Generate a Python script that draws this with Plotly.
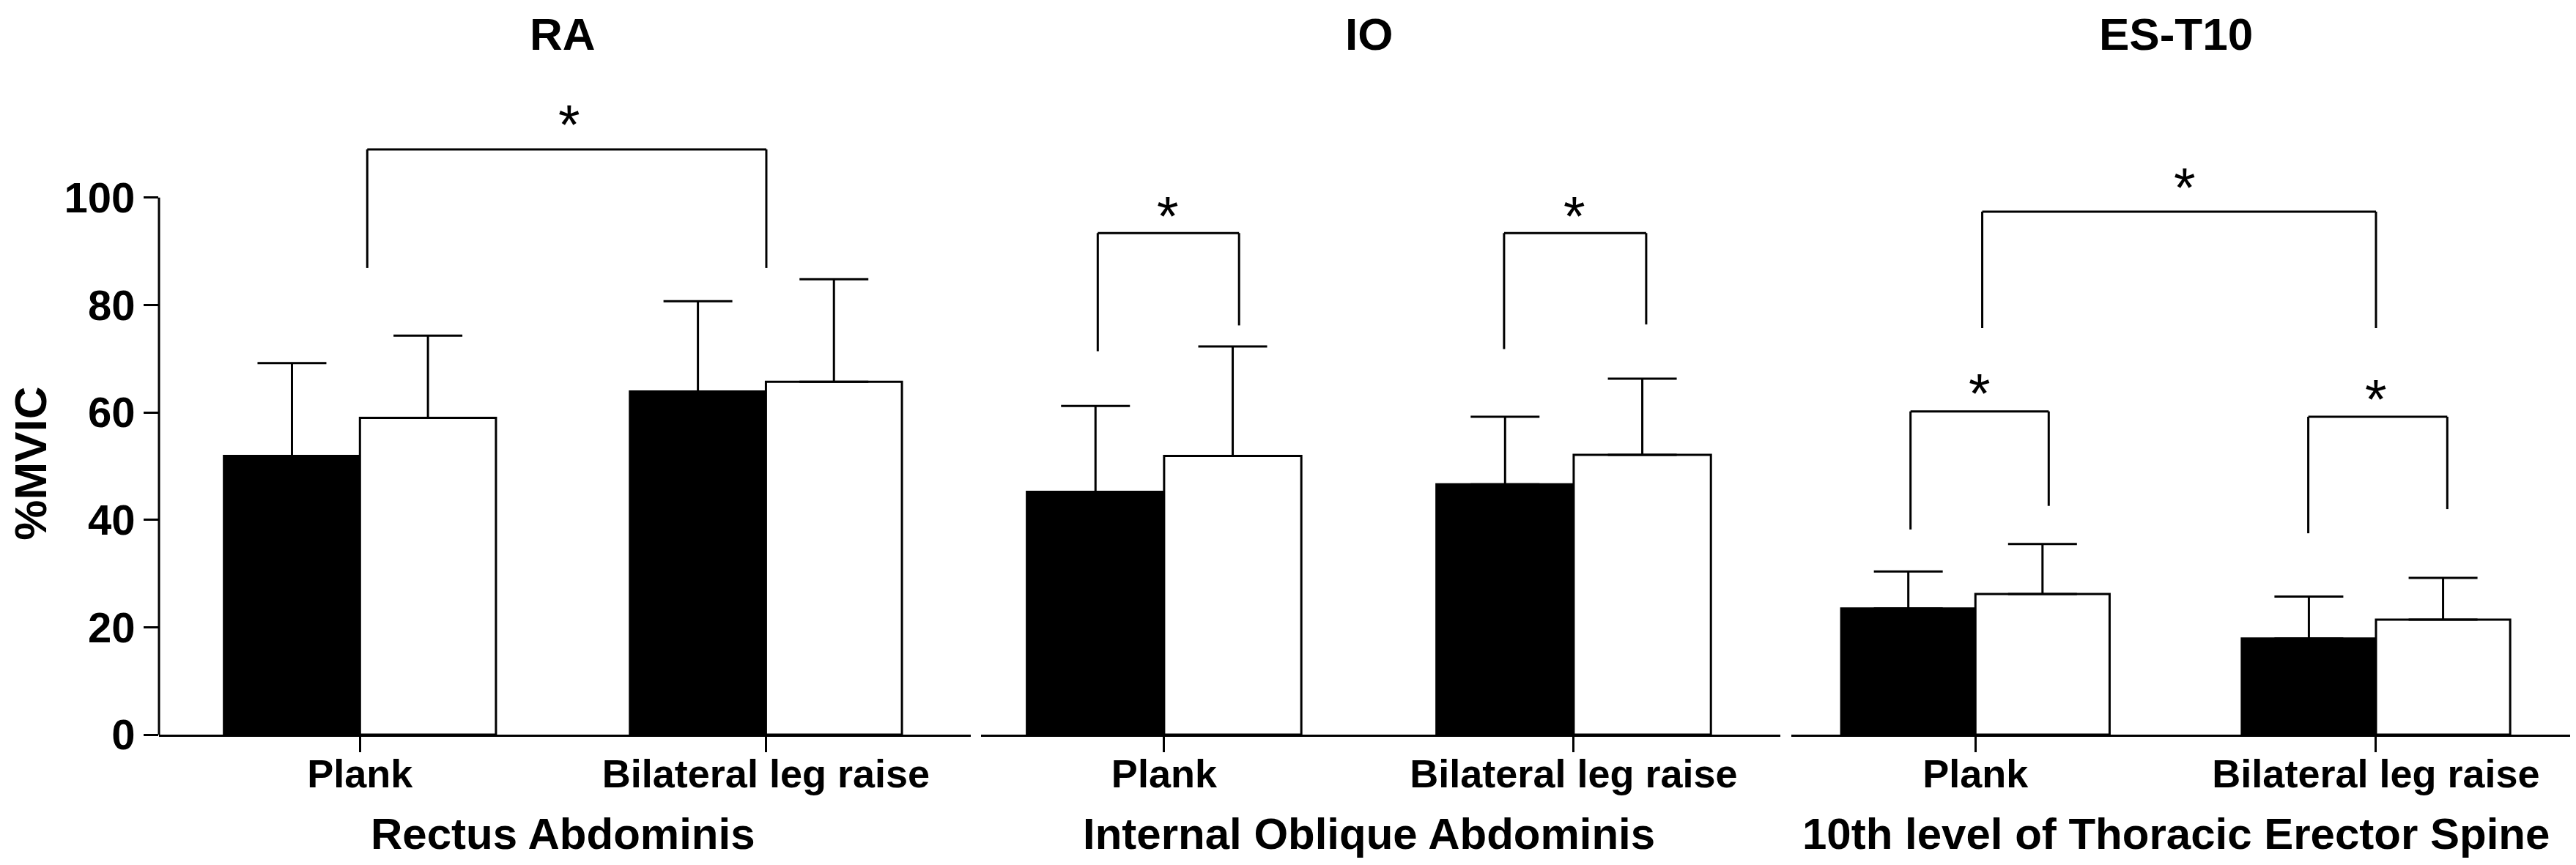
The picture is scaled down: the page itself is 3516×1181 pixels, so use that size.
import plotly.graph_objects as go

# ---------------- data ----------------
categories = ["Plank", "Bilateral leg raise"]
panel_titles = ["RA", "IO", "ES-T10"]
panel_axis_titles = ["Rectus Abdominis", "Internal Oblique Abdominis",
                     "10th level of Thoracic Erector Spine"]

# black series (condition 1) and white series (condition 2): mean and SD (%MVIC)
ra_black = [51.9, 63.9]
ra_black_sd = [17.3, 16.8]
ra_white = [59.0, 65.7]
ra_white_sd = [15.3, 19.1]

io_black = [45.2, 46.6]
io_black_sd = [16.0, 12.6]
io_white = [51.9, 52.1]
io_white_sd = [20.4, 14.2]

es_black = [23.5, 17.9]
es_black_sd = [6.9, 7.8]
es_white = [26.2, 21.4]
es_white_sd = [9.3, 7.8]

y_tick_vals = [0, 20, 40, 60, 80, 100]
y_title = "%MVIC"

# significance brackets: (panel, x_left, x_right, y_left_end, y_right_end, y_top)
brackets = [
    (0, 0.018, 1.001, 86.9, 86.9, 109.0),
    (1, -0.162, 0.183, 71.4, 76.2, 93.4),
    (1, 0.830, 1.177, 71.8, 76.4, 93.4),
    (2, -0.162, 0.183, 38.2, 42.6, 60.2),
    (2, 0.831, 1.178, 37.5, 42.0, 59.2),
    (2, 0.017, 1.000, 75.7, 75.7, 97.4),
]
# star marks: (panel, x, y)
stars = [
    (0, 0.516, 114.0),
    (1, 0.009, 96.9),
    (1, 1.001, 96.9),
    (2, 0.010, 63.9),
    (2, 1.000, 62.8),
    (2, 0.522, 102.2),
]

# ---------------- layout geometry ----------------
W, H = 3516, 1181
PX_PER_UNIT = 7.335
ZERO_PX = 995.5
Y_MAX = ZERO_PX / PX_PER_UNIT
domains_px = [(209, 1316.7), (1331, 2421.7), (2437.3, 3510)]
ranges = [(-0.495, 1.504), (-0.447, 1.504), (-0.459, 1.503)]

FONT = "Liberation Sans, Arial, sans-serif"
LW = 3

series = [
    (ra_black, ra_black_sd, ra_white, ra_white_sd),
    (io_black, io_black_sd, io_white, io_white_sd),
    (es_black, es_black_sd, es_white, es_white_sd),
]

fig = go.Figure()
for i, (b, bsd, w, wsd) in enumerate(series):
    xa = "x" if i == 0 else f"x{i+1}"
    for vals, sds, col in [(b, bsd, "black"), (w, wsd, "white")]:
        fig.add_trace(go.Bar(
            x=categories, y=vals, xaxis=xa, yaxis="y",
            marker=dict(color=col, line=dict(color="black", width=LW)),
            error_y=dict(type="data", symmetric=False, array=sds,
                         arrayminus=[0] * len(sds), color="black",
                         thickness=LW, width=47),
            showlegend=False, hoverinfo="skip",
        ))

layout = dict(
    width=W, height=H,
    margin=dict(l=0, r=0, t=0, b=H - ZERO_PX, pad=0),
    plot_bgcolor="white", paper_bgcolor="white",
    barmode="group", bargap=0.33, bargroupgap=0,
    font=dict(family=FONT, color="black"),
    yaxis=dict(
        range=[0, Y_MAX], tickvals=y_tick_vals, showline=False,
        showgrid=False, zeroline=False, ticks="outside", ticklen=20,
        tickwidth=LW, tickcolor="black", automargin=False,
        tickfont=dict(family=FONT, size=58, weight="bold", color="black"),
        anchor="x",
    ),
)
for i in range(3):
    key = "xaxis" if i == 0 else f"xaxis{i+1}"
    layout[key] = dict(
        domain=[domains_px[i][0] / W, domains_px[i][1] / W],
        range=list(ranges[i]), type="category",
        showline=True, linewidth=LW, linecolor="black",
        showgrid=False, zeroline=False, ticks="outside", ticklen=21,
        tickwidth=LW, tickcolor="black", automargin=False,
        tickfont=dict(family=FONT, size=54, weight="bold", color="black"),
        anchor="y", ticklabelstandoff=-17,
    )
fig.update_layout(**layout)

shapes = []
# y axis line from 0 to 100
shapes.append(dict(type="line", xref="x domain", yref="y", x0=0, x1=0,
                   y0=0, y1=max(y_tick_vals),
                   line=dict(color="black", width=LW)))
for p, xl, xr, yl, yr, yt in brackets:
    xr_ = "x" if p == 0 else f"x{p+1}"
    for (x0, y0, x1, y1) in [(xl, yl, xl, yt), (xl, yt, xr, yt), (xr, yt, xr, yr)]:
        shapes.append(dict(type="line", xref=xr_, yref="y", x0=x0, x1=x1,
                           y0=y0, y1=y1, line=dict(color="black", width=LW)))
fig.update_layout(shapes=shapes)

ann = []
for i in range(3):
    xr_ = "x" if i == 0 else f"x{i+1}"
    ann.append(dict(text=panel_titles[i], xref=xr_, yref="paper", x=0.5,
                    y=1, showarrow=False, yanchor="top",
                    xanchor="center", yshift=-2,
                    font=dict(family=FONT, size=62, weight="bold")))
    ann.append(dict(text=panel_axis_titles[i], xref=xr_, yref="paper", x=0.5,
                    y=(ZERO_PX - 1137) / ZERO_PX, showarrow=False,
                    yanchor="middle", xanchor="center", yshift=6,
                    font=dict(family=FONT, size=60, weight="bold")))
for p, x, y in stars:
    xr_ = "x" if p == 0 else f"x{p+1}"
    ann.append(dict(text="*", xref=xr_, yref="y", x=x, y=y, showarrow=False,
                    yanchor="middle", xanchor="center", yshift=-2,
                    font=dict(family=FONT, size=76)))
ann.append(dict(text=y_title, xref="paper", yref="paper", x=34 / W,
                y=(ZERO_PX - 625) / ZERO_PX, textangle=-90, showarrow=False,
                xanchor="center", yanchor="middle",
                font=dict(family=FONT, size=62, weight="bold")))
fig.update_layout(annotations=ann)

fig.write_html("out.html")
